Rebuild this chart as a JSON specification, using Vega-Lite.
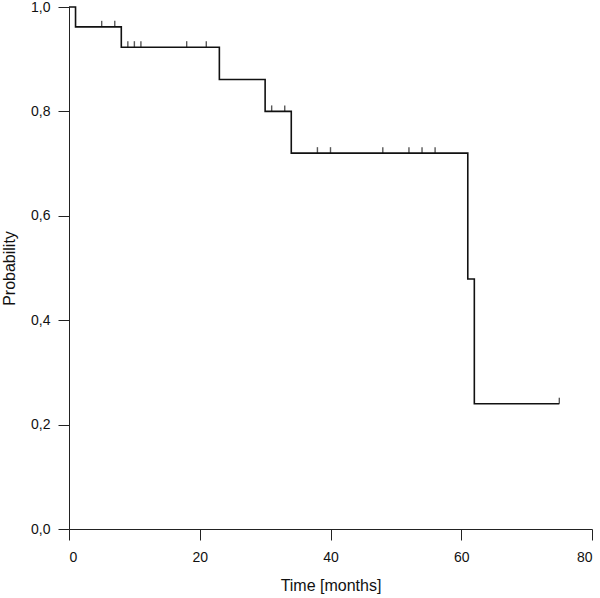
{
  "$schema": "https://vega.github.io/schema/vega-lite/v6.json",
  "autosize": {"type": "none"},
  "padding": {"left": 69, "top": 7, "right": 8, "bottom": 69},
  "width": 523,
  "height": 522,
  "background": "white",
  "config": {
    "view": {"stroke": null},
    "font": "Liberation Sans",
    "axis": {
      "grid": false,
      "domainColor": "#222",
      "tickColor": "#222",
      "domainWidth": 1,
      "tickWidth": 1,
      "tickSize": 11,
      "labelColor": "#111",
      "titleColor": "#111",
      "labelFont": "Liberation Sans",
      "titleFont": "Liberation Sans",
      "labelFontSize": 14,
      "titleFontSize": 16,
      "titleFontWeight": "normal"
    }
  },
  "datasets": {
    "curve": [
      {"time": 0, "prob": 1.0},
      {"time": 1, "prob": 0.962},
      {"time": 8, "prob": 0.923},
      {"time": 23, "prob": 0.861},
      {"time": 30, "prob": 0.8},
      {"time": 34, "prob": 0.72},
      {"time": 61, "prob": 0.479},
      {"time": 62, "prob": 0.24},
      {"time": 75, "prob": 0.24}
    ],
    "censored": [
      {"time": 5, "prob": 0.962},
      {"time": 7, "prob": 0.962},
      {"time": 9, "prob": 0.923},
      {"time": 10, "prob": 0.923},
      {"time": 11, "prob": 0.923},
      {"time": 18, "prob": 0.923},
      {"time": 21, "prob": 0.923},
      {"time": 31, "prob": 0.8},
      {"time": 33, "prob": 0.8},
      {"time": 38, "prob": 0.72},
      {"time": 40, "prob": 0.72},
      {"time": 48, "prob": 0.72},
      {"time": 52, "prob": 0.72},
      {"time": 54, "prob": 0.72},
      {"time": 56, "prob": 0.72},
      {"time": 75, "prob": 0.24}
    ]
  },
  "layer": [
    {
      "data": {"name": "curve"},
      "mark": {"type": "line", "interpolate": "step-after", "color": "#111", "strokeWidth": 1.6},
      "encoding": {
        "x": {
          "field": "time", "type": "quantitative",
          "scale": {"domain": [0, 80], "nice": false, "zero": false},
          "axis": {"values": [0, 20, 40, 60, 80], "title": "Time [months]", "labelPadding": 10, "titlePadding": 13}
        },
        "y": {
          "field": "prob", "type": "quantitative",
          "scale": {"domain": [0, 1], "nice": false},
          "axis": {
            "values": [0, 0.2, 0.4, 0.6, 0.8, 1.0],
            "title": "Probability",
            "labelExpr": "replace(format(datum.value, '.1f'), '.', ',')",
            "labelPadding": 8,
            "titlePadding": 13
          }
        }
      }
    },
    {
      "data": {"name": "censored"},
      "mark": {"type": "tick", "orient": "vertical", "color": "#111", "size": 6, "thickness": 1.4, "yOffset": -3},
      "encoding": {
        "x": {"field": "time", "type": "quantitative"},
        "y": {"field": "prob", "type": "quantitative"}
      }
    }
  ]
}
